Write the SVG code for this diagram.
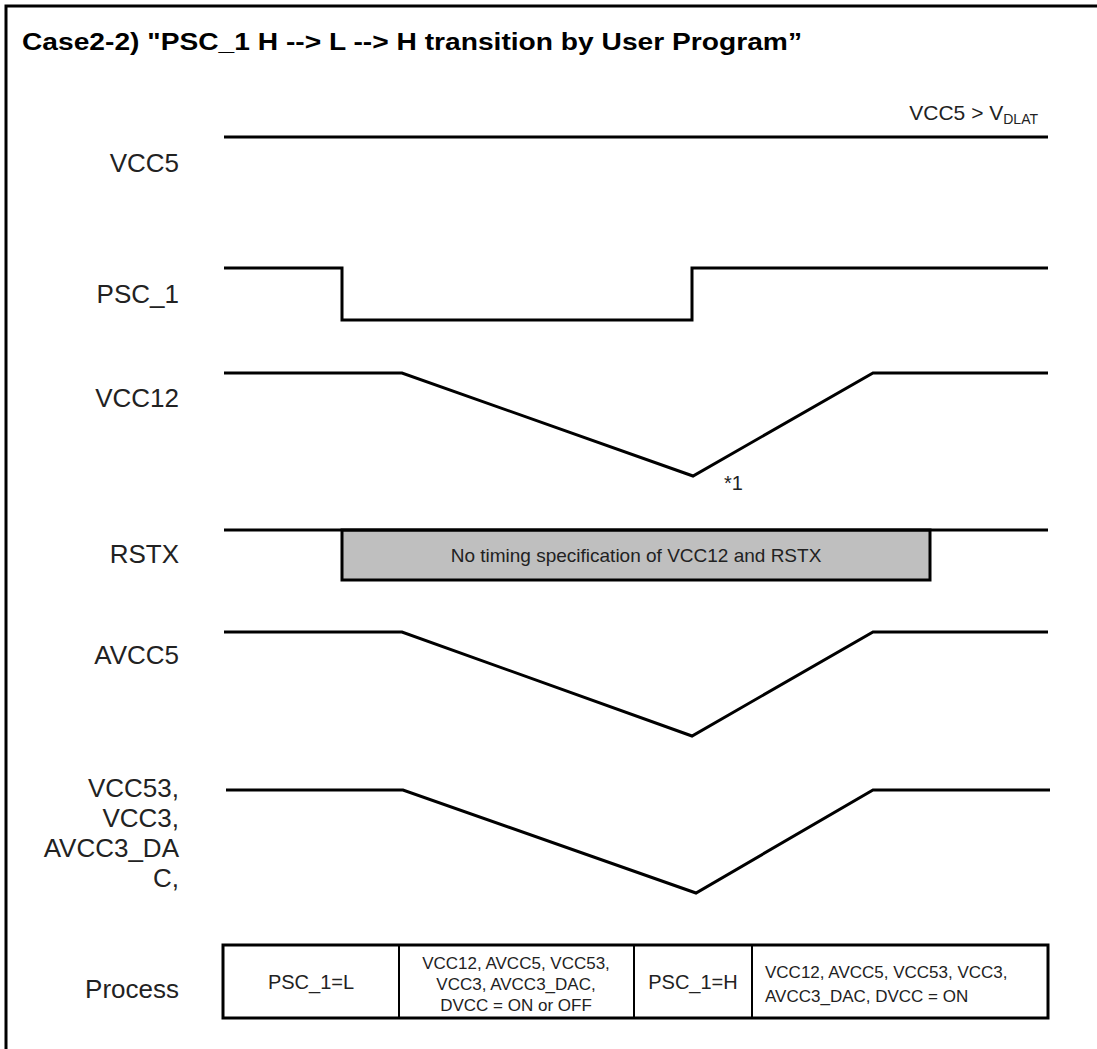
<svg xmlns="http://www.w3.org/2000/svg" width="1097" height="1049" viewBox="0 0 1097 1049">
<style>
.sig{fill:none;stroke:#000;stroke-width:3;stroke-linejoin:miter}
.lbl{font-family:"Liberation Sans",Arial,sans-serif;font-size:26px;fill:#222;text-anchor:end}
.t{font-family:"Liberation Sans",Arial,sans-serif;fill:#222}
</style>
<rect x="0" y="0" width="1097" height="1049" fill="#fff"/>
<path d="M6,1049 V6 H1097" fill="none" stroke="#000" stroke-width="3"/>
<text x="22" y="50" font-family="Liberation Sans,Arial,sans-serif" font-weight="bold" font-size="23" fill="#000" textLength="780" lengthAdjust="spacingAndGlyphs">Case2-2) "PSC_1 H --&gt; L --&gt; H transition by User Program”</text>
<g id="vcc5">
<text class="lbl" x="179" y="172">VCC5</text>
<path class="sig" d="M224,137 H1048"/>
<text class="t" x="1038" y="120" font-size="21" text-anchor="end">VCC5 &gt; V<tspan font-size="14" dy="4">DLAT</tspan></text>
</g>
<g id="psc1">
<text class="lbl" x="179" y="303">PSC_1</text>
<path class="sig" d="M224,268 H342 V320 H692 V268 H1048"/>
</g>
<g id="vcc12">
<text class="lbl" x="179" y="407">VCC12</text>
<path class="sig" d="M224,373 H402 L693,476 L873,373 H1048"/>
<text class="t" x="724" y="490" font-size="20">*1</text>
</g>
<g id="rstx">
<text class="lbl" x="179" y="563">RSTX</text>
<rect x="342" y="530" width="588" height="50" fill="#bfbfbf" stroke="#000" stroke-width="3"/>
<path class="sig" d="M224,530 H1048"/>
<text class="t" x="636" y="562" font-size="19" text-anchor="middle">No timing specification of VCC12 and RSTX</text>
</g>
<g id="avcc5">
<text class="lbl" x="179" y="664">AVCC5</text>
<path class="sig" d="M224,632 H402 L692,736 L873,632 H1048"/>
</g>
<g id="vcc53">
<text class="lbl" x="179" y="797">VCC53,</text>
<text class="lbl" x="179" y="827">VCC3,</text>
<text class="lbl" x="179" y="857">AVCC3_DA</text>
<text class="lbl" x="179" y="887">C,</text>
<path class="sig" d="M226,790 H403 L696,893 L873,790 H1050"/>
</g>
<g id="process">
<text class="lbl" x="179" y="998">Process</text>
<rect x="223" y="945" width="825" height="73" fill="none" stroke="#000" stroke-width="3"/>
<path d="M399,945 V1018 M634,945 V1018 M752,945 V1018" stroke="#000" stroke-width="2"/>
<text class="t" x="311" y="989" font-size="20" text-anchor="middle">PSC_1=L</text>
<text class="t" font-size="17" text-anchor="middle"><tspan x="516" y="969">VCC12, AVCC5, VCC53,</tspan><tspan x="516" y="990">VCC3, AVCC3_DAC,</tspan><tspan x="516" y="1011">DVCC = ON or OFF</tspan></text>
<text class="t" x="693" y="989" font-size="20" text-anchor="middle">PSC_1=H</text>
<text class="t" font-size="17"><tspan x="765" y="978">VCC12, AVCC5, VCC53, VCC3,</tspan><tspan x="765" y="1002">AVCC3_DAC, DVCC = ON</tspan></text>
</g>
</svg>
